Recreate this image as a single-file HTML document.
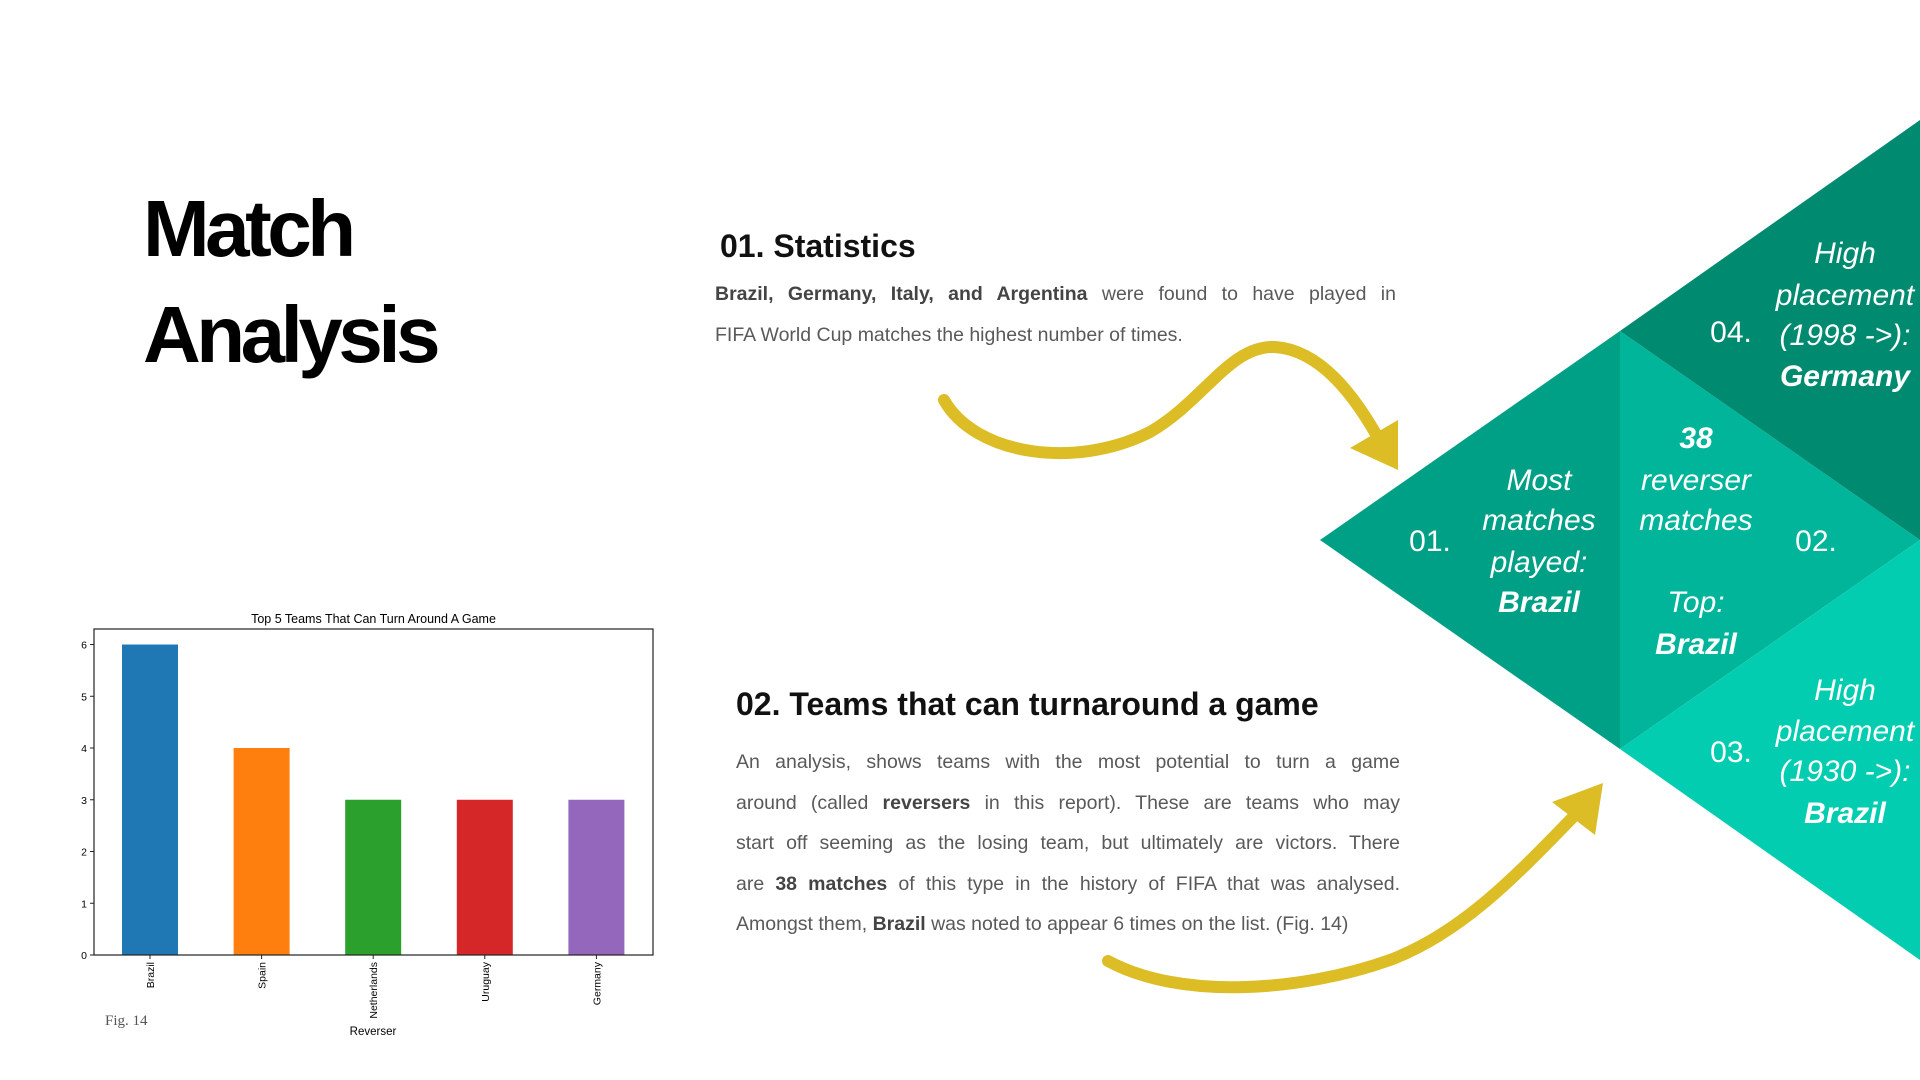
<!DOCTYPE html>
<html><head><meta charset="utf-8">
<style>
html,body{margin:0;padding:0;background:#fff;}
body{width:1920px;height:1080px;position:relative;overflow:hidden;font-family:"Liberation Sans",sans-serif;}
.abs{position:absolute;}
.title{left:143px;font-size:80px;font-weight:bold;color:#000;letter-spacing:-4.5px;line-height:1;}
.h{font-size:32px;font-weight:bold;color:#111;letter-spacing:0px;white-space:nowrap;}
.p{font-size:19.5px;color:#595959;line-height:40.5px;}
.p div{text-align:justify;text-align-last:justify;white-space:nowrap;}
.p div.last{text-align-last:left;}
.p b{color:#444;}
svg text{font-family:"Liberation Sans",sans-serif;}
</style></head><body>
<div class="abs title" style="top:189px;">Match</div>
<div class="abs title" style="top:295px;">Analysis</div>

<div class="abs h" style="left:720px;top:228px;">01. Statistics</div>
<div class="abs p" style="left:715px;top:274px;width:681px;">
<div><b>Brazil, Germany, Italy, and Argentina</b> were found to have played in</div>
<div class="last">FIFA World Cup matches the highest number of times.</div></div>

<div class="abs h" style="left:736px;top:686px;">02. Teams that can turnaround a game</div>
<div class="abs p" style="left:736px;top:742px;width:664px;">
<div>An analysis, shows teams with the most potential to turn a game</div>
<div>around (called <b>reversers</b> in this report). These are teams who may</div>
<div>start off seeming as the losing team, but ultimately are victors. There</div>
<div>are <b>38 matches</b> of this type in the history of FIFA that was analysed.</div>
<div class="last">Amongst them, <b>Brazil</b> was noted to appear 6 times on the list. (Fig. 14)</div></div>

<svg class="abs" style="left:0;top:0" width="1920" height="1080">
  <polygon points="1320,540 1620,331 1620,749" fill="#00a086"/>
  <polygon points="1620,331 1920,540 1620,749" fill="#00b59a"/>
  <polygon points="1620,331 1920,120 1920,540" fill="#008a70"/>
  <polygon points="1620,749 1920,540 1920,960" fill="#03cdb0"/>
  <g fill="#fff" font-size="30" text-anchor="middle" font-style="italic">
    <text x="1430" y="551" font-style="normal">01.</text>
    <text x="1816" y="551" font-style="normal">02.</text>
    <text x="1731" y="342" font-style="normal">04.</text>
    <text x="1731" y="762" font-style="normal">03.</text>
    <g>
      <text x="1539" y="490">Most</text><text x="1539" y="530">matches</text><text x="1539" y="572">played:</text><text x="1539" y="612" font-weight="bold">Brazil</text>
    </g>
    <g>
      <text x="1696" y="448" font-weight="bold">38</text><text x="1696" y="490">reverser</text><text x="1696" y="530">matches</text><text x="1696" y="612">Top:</text><text x="1696" y="654" font-weight="bold">Brazil</text>
    </g>
    <g>
      <text x="1845" y="263">High</text><text x="1845" y="305">placement</text><text x="1845" y="345">(1998 -&gt;):</text><text x="1845" y="386" font-weight="bold">Germany</text>
    </g>
    <g>
      <text x="1845" y="700">High</text><text x="1845" y="741">placement</text><text x="1845" y="781">(1930 -&gt;):</text><text x="1845" y="823" font-weight="bold">Brazil</text>
    </g>
  </g>
  <g>
    <path d="M944,400 C 975,455 1075,470 1150,432 C 1205,400 1230,345 1275,347 C 1320,350 1355,395 1382,445" fill="none" stroke="#dcbd25" stroke-width="12" stroke-linecap="round"/>
    <polygon points="1398,420 1398,470 1350,448" fill="#dcbd25"/>
  </g>
  <g>
    <path d="M1108,961 C 1180,1000 1300,992 1390,960 C 1470,930 1530,860 1585,805" fill="none" stroke="#dcbd25" stroke-width="12" stroke-linecap="round"/>
    <polygon points="1603,783 1595,835 1552,802" fill="#dcbd25"/>
  </g>
</svg>

<svg id="chart" class="abs" style="left:0;top:0" width="700" height="1080"></svg>

<script>
const categories = ["Brazil","Spain","Netherlands","Uruguay","Germany"];
const values = [6,4,3,3,3];
const colors = ["#1f77b4","#ff7f0e","#2ca02c","#d62728","#9467bd"];
const yTicks = [0,1,2,3,4,5,6];
const svg = document.getElementById('chart');
const NS = "http://www.w3.org/2000/svg";
const L=94,R=653,T=629,B=955, yMax=6.3;
function y(v){return B-(v/yMax)*(B-T);}
function x(i){return 150 + i*111.6;}
function mk(tag,attrs,text){const e=document.createElementNS(NS,tag);for(const k in attrs)e.setAttribute(k,attrs[k]);if(text!==undefined)e.textContent=text;svg.appendChild(e);return e;}
let t=mk('text',{x:(L+R)/2,y:623,'text-anchor':'middle','font-size':12.5,fill:'#000'},'Top 5 Teams That Can Turn Around A Game');


values.forEach((v,i)=>{
  const r=mk('rect',{x:x(i)-28,y:y(v),width:56,height:B-y(v),fill:colors[i]});
  
  
  mk('line',{x1:x(i),x2:x(i),y1:B,y2:B+4,stroke:'#222'});
  const lb=mk('text',{x:0,y:0,transform:`translate(${x(i)+4},${B+7}) rotate(-90)`,'text-anchor':'end','font-size':10.5,fill:'#000'},categories[i]);
  
  
});
yTicks.forEach(v=>{
  mk('line',{x1:L-4,x2:L,y1:y(v),y2:y(v),stroke:'#222'});
  const tl=mk('text',{x:L-7,y:y(v)+4,'text-anchor':'end','font-size':10.5,fill:'#000'},String(v));
  
  
});
const fr=mk('rect',{x:L,y:T,width:R-L,height:B-T,fill:'none',stroke:'#222','stroke-width':1.2});


const xt=mk('text',{x:373,y:1035,'text-anchor':'middle','font-size':11.5,fill:'#000'},'Reverser');


const fg=mk('text',{x:105,y:1025,'font-size':15,fill:'#555',style:'font-family:"Liberation Serif",serif'},'Fig. 14');


</script>
</body></html>
